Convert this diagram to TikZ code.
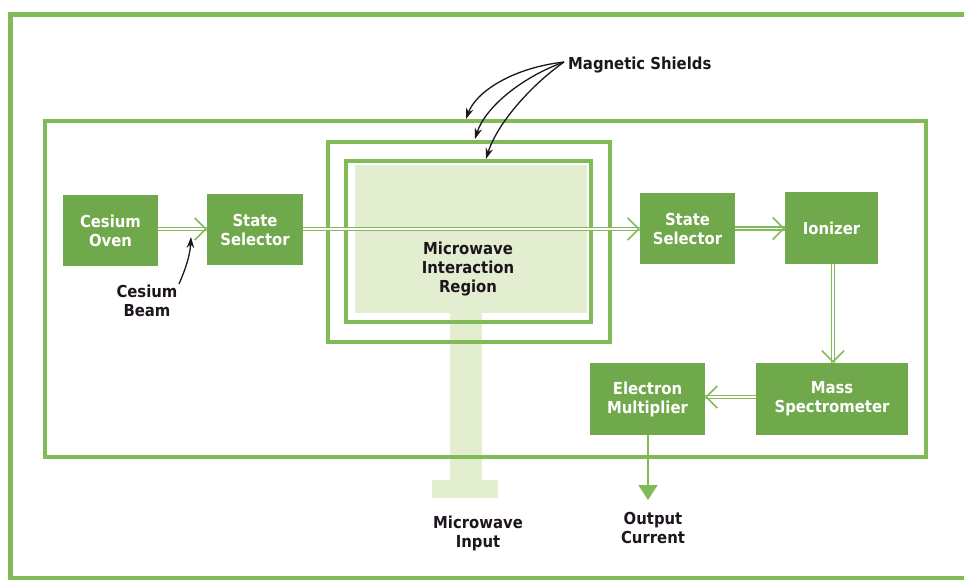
\documentclass[tikz,border=0pt]{standalone}
\usepackage{fontspec}
\setmainfont{DejaVu Sans Condensed}
\usetikzlibrary{arrows.meta}
\definecolor{boxg}{RGB}{112,168,76}
\definecolor{lineg}{RGB}{130,186,88}
\definecolor{paleg}{RGB}{227,237,207}
\definecolor{ink}{RGB}{30,22,30}
\tikzset{
  blk/.style={fill=boxg, draw=none, text=white, font=\fontsize{16.5}{19}\selectfont\bfseries, align=center, inner sep=0pt},
  lbl/.style={text=ink, font=\fontsize{16.5}{19}\selectfont\bfseries, align=center, inner sep=0pt},
  frame/.style={draw=lineg, line width=3.6pt},
  beam/.style={draw=lineg, line width=1.7pt, double=white, double distance=1.5pt},
  beamtip/.style={draw=lineg, line width=1.5pt, -{Straight Barb[length=11pt, width=22pt, line width=1.5pt]}},
  callout/.style={draw=ink, line width=1.3pt, -{Stealth[length=11pt, width=7.5pt]}},
}
\begin{document}
\begin{tikzpicture}[x=1pt, y=-1pt]
\useasboundingbox (0,0) rectangle (964,580);
\clip (0,0) rectangle (964,580);
% outer page frame
\draw[draw=lineg, line width=5pt] (10.5,14.5) rectangle (990,578.5);
% microwave region (pale)
\fill[paleg] (355,165) rectangle (587,313);
\fill[paleg] (450,312) rectangle (482,481);
\fill[paleg] (432,480) rectangle (498,498);
% inner frame and shields
\draw[frame] (45,121) rectangle (926,457);
\draw[frame, line width=4pt] (328,142) rectangle (610,342);
\draw[frame, line width=4pt] (346,161) rectangle (591,322);
% blocks
\node[blk, minimum width=95pt, minimum height=71pt] (oven) at (110.5,230.5) {Cesium\\Oven};
\node[blk, minimum width=96pt, minimum height=71pt] (ss1) at (255,229.5) {State\\Selector};
\node[blk, minimum width=95pt, minimum height=71pt] (ss2) at (687.5,228.5) {State\\Selector};
\node[blk, minimum width=93pt, minimum height=72pt] (ion) at (831.5,228) {Ionizer};
\node[blk, minimum width=152pt, minimum height=72pt] (ms) at (832,399) {Mass\\Spectrometer};
\node[blk, minimum width=115pt, minimum height=72pt] (em) at (647.5,399) {Electron\\Multiplier};
% labels
\node[lbl] (mir) at (468,269) {Microwave\\Interaction\\Region};
\node[lbl] (cb) at (147,301) {Cesium\\Beam};
\node[lbl, anchor=west] (msh) at (568,65) {Magnetic Shields};
\node[lbl] (mi) at (478,533.5) {Microwave\\Input};
\node[lbl] (oc) at (653,527.5) {Output\\Current};
\coordinate (cb0) at (179,284);
\coordinate (bt) at (191,237);
\coordinate (ms0) at (564,62);
\coordinate (t1) at (466,119);
\coordinate (t2) at (475,139);
\coordinate (t3) at (486,159);
% beams
\draw[beam] (oven.east |- 0,229) -- (ss1.west |- 0,229);
\draw[beamtip] ([xshift=-1pt]ss1.west |- 0,229) -- (ss1.west |- 0,229);
\draw[beam] (ss1.east |- 0,229) -- (ss2.west |- 0,229);
\draw[beamtip] ([xshift=-1pt]ss2.west |- 0,229) -- (ss2.west |- 0,229);
\draw[beam] (ss2.east |- 0,228.5) -- (ion.west |- 0,228.5);
\draw[beamtip] ([xshift=-1pt]ion.west |- 0,228.5) -- (ion.west |- 0,228.5);
\draw[beam] (833,0 |- ion.south) -- (833,0 |- ms.north);
\draw[beamtip] ([yshift=1pt]833,0 |- ms.north) -- (833,0 |- ms.north);
\draw[beam] (ms.west |- 0,397) -- (em.east |- 0,397);
\draw[beamtip] ([xshift=1pt]em.east |- 0,397) -- (em.east |- 0,397);
% output
\draw[draw=lineg, line width=1.8pt, -{Triangle[length=15pt, width=19pt]}, color=lineg] (648,0 |- em.south) -- (648,500);
% callouts
\draw[callout] (cb0) .. controls (186,268) and (190,255) .. (bt);
\draw[callout] (ms0) .. controls (512,68) and (476,92) .. (t1);
\draw[callout] (ms0) .. controls (520,78) and (485,108) .. (t2);
\draw[callout] (ms0) .. controls (530,86) and (497,124) .. (t3);
\end{tikzpicture}
\end{document}
